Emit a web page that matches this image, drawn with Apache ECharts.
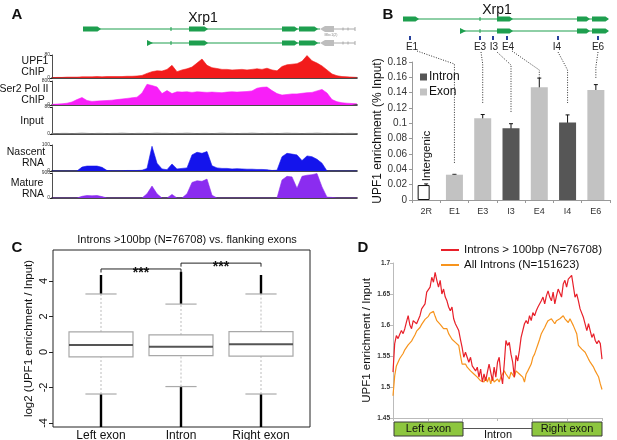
<!DOCTYPE html>
<html><head><meta charset="utf-8">
<script src="https://cdn.jsdelivr.net/npm/echarts@6/dist/echarts.min.js"></script>
<style>html,body{margin:0;padding:0;background:#fff}#c{width:617px;height:440px}</style>
</head><body><div id="c"></div>
<script>
// ---------- Panel A: genome browser tracks (one value per bin along the locus) ----------
const upf1ChIP = [1,2,2,3,3,3,4,4,4,5, 4,5,5,5,5,6,6,7,9,16, 22,25,24,30,44,22,28,32,38,52,
  66,44,36,33,30,30,28,29,30,28, 30,32,30,34,28,25,40,46,48,50, 58,78,60,52,42,28,14,8,5,4, 3,2];
const ser2ChIP = [20,30,40,60,100,180,250,150,120,130, 140,150,160,180,200,220,240,260,400,690,
  650,600,380,480,380,440,430,440,420,440, 430,420,430,420,410,430,440,430,440,450,
  470,560,590,600,480,380,330,350,370,370, 390,410,420,470,520,400,180,110,75,60, 50,40];
const inputChIP = [2,1,2,2,1,2,3,2,1,2, 2,1,2,2,3,2,1,2,2,1, 2,3,2,2,1,2,2,3,2,1,
  2,2,1,2,3,2,2,1,2,2, 3,2,1,2,2,1,2,3,2,2, 1,2,2,3,2,1,2,2,1,2, 2,1];
const nascentRNA = [0,0,0,0,0,0,15,19,19,19, 14,2,1,1,1,2,2,2,3,10, 95,30,8,5,27,8,10,12,62,72,
  68,75,20,12,10,10,8,9,8,7, 7,6,6,5,2,3,55,68,65,62, 40,58,55,45,30,0,0,0,0,0, 0,0];
const matureRNA = [0,0,0,0,0,0,60,90,80,90, 50,0,0,0,0,0,0,0,0,150, 430,150,0,0,130,0,0,150,560,620,
  600,680,100,0,0,0,0,0,0,0, 0,0,0,0,0,0,650,780,760,350, 780,820,840,880,400,30,20,0,0,0, 0,0];
const trackMax = [80, 800, 80, 100, 900];

// ---------- Panel B: qPCR ----------
const qpcrCategories = ['2R','E1','E3','I3','E4','I4','E6'];
const intergenicValues = [0.0195,null,null,null,null,null,null];
const exonValues = [null,0.033,0.1065,null,0.147,null,0.1435];
const intronValues = [null,null,null,0.0935,null,0.101,null];
const qpcrErrors = [0.0015,0.0005,0.005,0.006,0.012,0.010,0.007];

// ---------- Panel C: boxplot [whiskerLow, Q1, median, Q3, whiskerHigh, outlierMin, outlierMax] ----------
const boxCategories = ['Left exon','Intron','Right exon'];
const boxStats = [
  [-2.37,-0.28,0.39,1.13,3.27,-4.4,4.34],
  [-1.95,-0.21,0.30,0.96,2.70,-4.4,4.52],
  [-2.37,-0.23,0.43,1.15,3.27,-4.4,4.34]
];
const boxTicks = [-4,-2,0,2,4];
const brackets = [[0,1,4.68],[1,2,5.01]];

// ---------- Panel D: metagene profiles ----------
const redName = 'Introns > 100bp (N=76708)';
const orangeName = 'All Introns (N=151623)';
const redProfile = [1.524,1.570,1.583,1.578,1.585,1.591,1.586,1.594,1.605,1.615,
 1.600,1.594,1.607,1.610,1.602,1.604,1.615,1.626,1.623,1.634,
 1.653,1.650,1.661,1.677,1.669,1.685,1.672,1.661,1.672,1.650,
 1.658,1.645,1.639,1.629,1.623,1.629,1.610,1.602,1.604,1.591,
 1.577,1.564,1.548,1.556,1.553,1.540,1.548,1.534,1.537,1.526,
 1.532,1.516,1.529,1.508,1.521,1.510,1.524,1.537,1.540,1.510,
 1.532,1.516,1.540,1.548,1.521,1.505,1.537,1.575,1.567,1.572,
 1.553,1.540,1.516,1.551,1.542,1.559,1.580,1.583,1.602,1.607,
 1.602,1.615,1.607,1.620,1.615,1.623,1.629,1.626,1.639,1.645,
 1.634,1.647,1.655,1.645,1.639,1.653,1.634,1.647,1.658,1.661,
 1.645,1.666,1.672,1.661,1.674,1.672,1.680,1.677,1.645,1.650,
 1.639,1.626,1.629,1.612,1.615,1.591,1.602,1.591,1.580,1.586,
 1.575,1.570,1.575,1.570,1.545];
const orangeProfile = [1.486,1.518,1.534,1.540,1.546,1.550,1.554,1.560,1.563,1.568,
 1.566,1.574,1.579,1.584,1.590,1.593,1.596,1.601,1.604,1.609,
 1.607,1.614,1.619,1.617,1.622,1.614,1.607,1.609,1.601,1.599,
 1.594,1.591,1.594,1.586,1.583,1.577,1.580,1.572,1.569,1.567,
 1.551,1.537,1.534,1.537,1.532,1.532,1.526,1.524,1.521,1.518,
 1.516,1.513,1.510,1.513,1.508,1.516,1.508,1.516,1.505,1.516,
 1.508,1.510,1.513,1.508,1.516,1.521,1.526,1.521,1.518,1.513,
 1.524,1.521,1.516,1.526,1.524,1.521,1.521,1.516,1.508,1.521,
 1.526,1.526,1.537,1.548,1.553,1.561,1.569,1.577,1.586,1.591,
 1.596,1.602,1.607,1.604,1.610,1.607,1.602,1.607,1.604,1.610,
 1.612,1.615,1.610,1.607,1.604,1.610,1.607,1.599,1.596,1.586,
 1.567,1.569,1.561,1.564,1.556,1.553,1.545,1.540,1.537,1.532,
 1.526,1.521,1.516,1.505,1.496];

// ================= layout / styling =================
const FONT = 'Liberation Sans, Arial, sans-serif';
const chart = echarts.init(document.getElementById('c'), null, {renderer:'canvas'});
const tracks = [upf1ChIP, ser2ChIP, inputChIP, nascentRNA, matureRNA];
const trackColors = ['#f21b1b','#f81ff8','#8a8a8a','#1414ec','#8b2cf0'];
const trackTops = [55,81,107,145,173], trackH = [23,24,27,26,25];

const grids = [], xAxes = [], yAxes = [], series = [];
tracks.forEach((t,k)=>{
  grids.push({left:52, top:trackTops[k], width:305, height:trackH[k], outerBoundsMode:'none'});
  xAxes.push({type:'value', gridIndex:k, min:0, max:t.length-1,
    axisLine:{show:true, onZero:false, lineStyle:{color:'#111', width:1.6}}, axisTick:{show:false},
    axisLabel:{show:false}, splitLine:{show:false}});
  yAxes.push({type:'value', gridIndex:k, min:0, max:trackMax[k],
    axisLine:{show:true, onZero:false, lineStyle:{color:'#222', width:0.8}},
    axisTick:{show:true, length:2, customValues:[0,trackMax[k]], lineStyle:{color:'#222'}},
    axisLabel:{show:true, customValues:[0,trackMax[k]], fontSize:5, margin:2, color:'#333', fontFamily:FONT},
    splitLine:{show:false}});
  series.push({type:'line', xAxisIndex:k, yAxisIndex:k, showSymbol:false, silent:true,
    data:t.map((v,i)=>[i,v]), lineStyle:{color:trackColors[k], width:0.6},
    areaStyle:{color:trackColors[k], opacity:1}});
});

// Panel B grid (index 5)
grids.push({left:412, top:62, width:198, height:138, outerBoundsMode:'none'});
xAxes.push({type:'category', gridIndex:5, data:qpcrCategories,
  axisLine:{onZero:false, lineStyle:{color:'#999'}}, axisTick:{show:true, length:3, lineStyle:{color:'#999'}},
  axisLabel:{fontSize:9, color:'#333', margin:7, fontFamily:FONT}});
yAxes.push({type:'value', gridIndex:5, min:0, max:0.18, interval:0.02,
  name:'UPF1 enrichment (% Input)', nameLocation:'middle', nameRotate:90, nameGap:24,
  nameTextStyle:{fontSize:12, color:'#111', fontFamily:FONT},
  axisLine:{show:true, onZero:false, lineStyle:{color:'#999'}}, axisTick:{show:true, length:3, lineStyle:{color:'#999'}},
  axisLabel:{fontSize:10, color:'#333', margin:5, fontFamily:FONT}, splitLine:{show:false}});
series.push({name:'Intergenic', type:'bar', xAxisIndex:5, yAxisIndex:5, data:intergenicValues, barWidth:12,
  itemStyle:{color:'#fff', borderColor:'#111', borderWidth:1}, barGap:'-100%'});
series.push({name:'Exon', type:'bar', xAxisIndex:5, yAxisIndex:5, data:exonValues, barWidth:17,
  itemStyle:{color:'#c2c2c2'}, barGap:'-100%'});
series.push({name:'Intron', type:'bar', xAxisIndex:5, yAxisIndex:5, data:intronValues, barWidth:17,
  itemStyle:{color:'#565656'}, barGap:'-100%'});
const qpcrValues = qpcrCategories.map((c,i)=>intergenicValues[i] ?? exonValues[i] ?? intronValues[i]);
series.push({type:'custom', xAxisIndex:5, yAxisIndex:5, silent:true,
  data:qpcrValues.map((v,i)=>[i,v,qpcrErrors[i]]),
  renderItem(p, api){
    const i=api.value(0), v=api.value(1), e=api.value(2);
    const hi=api.coord([i,v+e]), lo=api.coord([i,v-e]);
    const x=hi[0], w=2;
    return {type:'group', children:[
      {type:'line', shape:{x1:x,y1:hi[1],x2:x,y2:lo[1]}, style:{stroke:'#111',lineWidth:1}},
      {type:'line', shape:{x1:x-w,y1:hi[1],x2:x+w,y2:hi[1]}, style:{stroke:'#111',lineWidth:1}},
      {type:'line', shape:{x1:x-w,y1:lo[1],x2:x+w,y2:lo[1]}, style:{stroke:'#111',lineWidth:1}}
    ]};
  }});

// Panel C grid (index 6)
grids.push({left:53, top:250, width:257, height:177, show:true, borderColor:'#222', borderWidth:1, outerBoundsMode:'none'});
xAxes.push({type:'value', gridIndex:6, min:-0.6, max:2.6125,
  axisLine:{show:false, onZero:false}, axisTick:{show:false}, splitLine:{show:false},
  axisLabel:{show:true, customValues:[0,1,2], formatter:v=>boxCategories[Math.round(v)],
    fontSize:12, color:'#111', margin:3, fontFamily:FONT}});
yAxes.push({type:'value', gridIndex:6, min:-4.23, max:5.75,
  name:'log2 (UPF1 enrichment / Input)', nameLocation:'middle', nameRotate:90, nameGap:18,
  nameTextStyle:{fontSize:11.5, color:'#111', fontFamily:FONT},
  axisLine:{show:false, onZero:false}, splitLine:{show:false},
  axisTick:{show:true, length:4, customValues:boxTicks, lineStyle:{color:'#222'}},
  axisLabel:{show:true, customValues:boxTicks, rotate:90, fontSize:11, color:'#111', margin:4, fontFamily:FONT}});
series.push({type:'custom', xAxisIndex:6, yAxisIndex:6, silent:true, clip:true,
  data:boxStats.map((s,i)=>[i,...s]),
  renderItem(p, api){
    const x=api.value(0);
    const [wl,q1,md,q3,wh,omin,omax]=[1,2,3,4,5,6,7].map(j=>api.value(j));
    const y=v=>api.coord([x,v])[1];
    const cx=api.coord([x,0])[0];
    const bw=api.size([0.8,0])[0], cw=api.size([0.39,0])[0];
    return {type:'group', children:[
      {type:'line', shape:{x1:cx,y1:y(omin),x2:cx,y2:y(wl)}, style:{stroke:'#000',lineWidth:2.4}},
      {type:'line', shape:{x1:cx,y1:y(wh),x2:cx,y2:y(omax)}, style:{stroke:'#000',lineWidth:2.4}},
      {type:'line', shape:{x1:cx,y1:y(wl),x2:cx,y2:y(q1)}, style:{stroke:'#aaa',lineWidth:0.8,lineDash:[2,2]}},
      {type:'line', shape:{x1:cx,y1:y(q3),x2:cx,y2:y(wh)}, style:{stroke:'#aaa',lineWidth:0.8,lineDash:[2,2]}},
      {type:'line', shape:{x1:cx-cw/2,y1:y(wl),x2:cx+cw/2,y2:y(wl)}, style:{stroke:'#aaa',lineWidth:1.2}},
      {type:'line', shape:{x1:cx-cw/2,y1:y(wh),x2:cx+cw/2,y2:y(wh)}, style:{stroke:'#aaa',lineWidth:1.2}},
      {type:'rect', shape:{x:cx-bw/2,y:y(q3),width:bw,height:y(q1)-y(q3)}, style:{fill:'#fff',stroke:'#a8a8a8',lineWidth:1.2}},
      {type:'line', shape:{x1:cx-bw/2,y1:y(md),x2:cx+bw/2,y2:y(md)}, style:{stroke:'#555',lineWidth:2}}
    ]};
  }});
series.push({type:'custom', xAxisIndex:6, yAxisIndex:6, silent:true, clip:false,
  data:brackets,
  renderItem(p, api){
    const a=api.coord([api.value(0),api.value(2)]), b=api.coord([api.value(1),api.value(2)]);
    const d=api.size([0,0.2])[1];
    return {type:'group', children:[
      {type:'polyline', shape:{points:[[a[0],a[1]+d],[a[0],a[1]],[b[0],b[1]],[b[0],b[1]+d]]}, style:{stroke:'#222',lineWidth:1,fill:null}},
      {type:'text', style:{x:(a[0]+b[0])/2, y:a[1]+4, text:'***', align:'center', verticalAlign:'middle', font:'bold 14px '+FONT, fill:'#111'}}
    ]};
  }});

// Panel D grid (index 7)
grids.push({left:393, top:263, width:209, height:155, outerBoundsMode:'none'});
const dN = redProfile.length-1;
xAxes.push({type:'value', gridIndex:7, min:0, max:dN,
  axisLine:{show:true, onZero:false, lineStyle:{color:'#bbb'}},
  axisTick:{show:true, length:3, customValues:[0,1,2,3,4,5,6].map(k=>k*dN/6), lineStyle:{color:'#bbb'}},
  axisLabel:{show:false}, splitLine:{show:false}});
yAxes.push({type:'value', gridIndex:7, min:1.45, max:1.7, interval:0.05,
  name:'UPF1 enrichment / Input', nameLocation:'middle', nameRotate:90, nameGap:20,
  nameTextStyle:{fontSize:11.5, color:'#111', fontFamily:FONT},
  axisLine:{show:true, onZero:false, lineStyle:{color:'#bbb'}}, axisTick:{show:true, length:3, lineStyle:{color:'#bbb'}},
  axisLabel:{fontSize:6.5, fontWeight:'bold', color:'#333', margin:3, fontFamily:FONT}, splitLine:{show:false}});
series.push({name:redName, type:'line', xAxisIndex:7, yAxisIndex:7, showSymbol:false, silent:true,
  data:redProfile.map((v,i)=>[i,v]), lineStyle:{color:'#e8202a', width:1.2}, itemStyle:{color:'#e8202a'}, z:3});
series.push({name:orangeName, type:'line', xAxisIndex:7, yAxisIndex:7, showSymbol:false, silent:true,
  data:orangeProfile.map((v,i)=>[i,v]), lineStyle:{color:'#f7941d', width:1.2}, itemStyle:{color:'#f7941d'}, z:2});

// ================= graphics =================
const G = '#1e9f4f', GR = '#bdbdbd';
const txt=(x,y,t,size,opt={})=>({type:'text', x, y, rotation:opt.rot||0, silent:true,
  style:{text:t, align:opt.align||'center', verticalAlign:'middle', font:(opt.bold?'bold ':'')+size+'px '+FONT, fill:opt.fill||'#111'}});
const hl=(x1,x2,y,c,w)=>({type:'line', silent:true, shape:{x1,y1:y,x2,y2:y}, style:{stroke:c,lineWidth:w}});
const vt=(x,y,h,c)=>({type:'line', silent:true, shape:{x1:x,y1:y-h/2,x2:x,y2:y+h/2}, style:{stroke:c,lineWidth:1}});
const exon=(x1,x2,y,h=5)=>({type:'polygon', silent:true, shape:{points:[[x1,y-h/2],[x2-3.5,y-h/2],[x2,y],[x2-3.5,y+h/2],[x1,y+h/2]]}, style:{fill:G}});
const tri=(x,y)=>({type:'polygon', silent:true, shape:{points:[[x,y-3],[x+6,y],[x,y+3]]}, style:{fill:G}});
const gfx=[];
// panel letters & titles
gfx.push(txt(17,15,'A',15,{bold:true}), txt(388,15,'B',15,{bold:true}), txt(17,248,'C',15,{bold:true}), txt(363,248,'D',15,{bold:true}));
gfx.push(txt(203,18,'Xrp1',14), txt(497,10,'Xrp1',14));
// panel A gene models
[29,43].forEach((y,r)=>{
  if(r===0){ gfx.push(hl(83,320,y,G,1.2), exon(83,101,y)); }
  else { gfx.push(hl(147,320,y,G,1.2), tri(147,y)); }
  gfx.push(vt(171,y,4,G), exon(189,208,y), exon(282,298,y), exon(299,318,y));
  gfx.push({type:'polygon', silent:true, shape:{points:[[320,y],[325,y-3],[334,y-3],[334,y+3],[325,y+3]]}, style:{fill:GR}});
  gfx.push(hl(334,355,y,'#aaa',1), vt(343,y,3,'#aaa'), vt(348,y,3,'#aaa'), vt(355,y,4,'#aaa'));
});
gfx.push(txt(331,35,'Mbc1(2)',3.5,{fill:'#888'}));
// panel A track labels
gfx.push(txt(35,61,'UPF1',10.5), txt(33,72,'ChIP',10.5), txt(24,89,'Ser2 Pol II',10.5), txt(33,100,'ChIP',10.5),
  txt(32,121,'Input',10.5), txt(26,152,'Nascent',10.5), txt(33,163,'RNA',10.5), txt(27,183,'Mature',10.5), txt(33,194,'RNA',10.5));
// panel B gene model
[19,31].forEach((y,r)=>{
  if(r===0){ gfx.push(hl(403,608,y,G,1.2), exon(403,419,y)); }
  else { gfx.push(hl(460,608,y,G,1.2), tri(460,y)); }
  gfx.push(vt(480,y,4,G), exon(497,513,y), exon(577,590,y), exon(592,609,y));
});
const probeX=[410,480,493,507,558,598], probeLbl=['E1','E3','I3','E4','I4','E6'], probeLx=[412,480,494,508,557,598];
probeX.forEach((x,i)=>{
  gfx.push({type:'rect', silent:true, shape:{x:x-1,y:36,width:2,height:4}, style:{fill:'#27419b'}});
  gfx.push(txt(probeLx[i],47,probeLbl[i],10,{fill:'#222'}));
});
// panel C title
gfx.push(txt(187,240,'Introns >100bp (N=76708) vs. flanking exons',11));
// panel D exon boxes
gfx.push(hl(463,532,428.5,'#555',1));
gfx.push({type:'rect', silent:true, shape:{x:394,y:422,width:69,height:14}, style:{fill:'#8dc63f',stroke:'#3a3a3a',lineWidth:1}});
gfx.push({type:'rect', silent:true, shape:{x:532,y:422,width:70,height:14}, style:{fill:'#8dc63f',stroke:'#3a3a3a',lineWidth:1}});
gfx.push(txt(428.5,429,'Left exon',11), txt(567,429,'Right exon',11), txt(498,434.5,'Intron',11));

const option = {
  animation:false, backgroundColor:'#fff',
  textStyle:{fontFamily:FONT},
  grid:grids, xAxis:xAxes, yAxis:yAxes, series,
  legend:[
    {data:['Intron','Exon'], left:415, top:66, orient:'vertical', itemGap:3, itemWidth:7, itemHeight:7, icon:'rect',
     textStyle:{fontSize:12, color:'#111', fontFamily:FONT, padding:[0,0,0,-3]}, selectedMode:false},
    {data:[redName, orangeName], left:436, top:239, orient:'vertical', itemGap:3, itemWidth:18, itemHeight:2, icon:'rect',
     textStyle:{fontSize:11.5, color:'#111', fontFamily:FONT}, selectedMode:false}
  ],
  graphic:{elements:gfx}
};
chart.setOption(option);

// positions taken from the bar axis: dotted connectors and the "Intergenic" label
const px = (c,v) => chart.convertToPixel({gridIndex:5}, [c, v]);
const conn = [
  [[417,51],['E1',64],['E1',164]],
  [[481,52],['E3',64],['E3',103]],
  [[497,52],['I3',65],['I3',112]],
  [[512,51],['E4',70],['E4',79]],
  [[558,52],['I4',70],['I4',103]],
  [[598,52],['E6',67],['E6',78]]
];
conn.forEach(c=>{
  gfx.push({type:'polyline', silent:true, shape:{points:[c[0],[px(c[1][0],0)[0],c[1][1]],[px(c[2][0],0)[0],c[2][1]]]},
    style:{stroke:'#333', lineWidth:1, lineDash:[1,1.5], fill:null}});
});
const ig = px('2R', intergenicValues[0]);
gfx.push(txt(ig[0]+1, ig[1]-29, 'Intergenic', 11.5, {rot:Math.PI/2}));
option.graphic = {elements:gfx};
chart.setOption(option, true);
</script></body></html>
